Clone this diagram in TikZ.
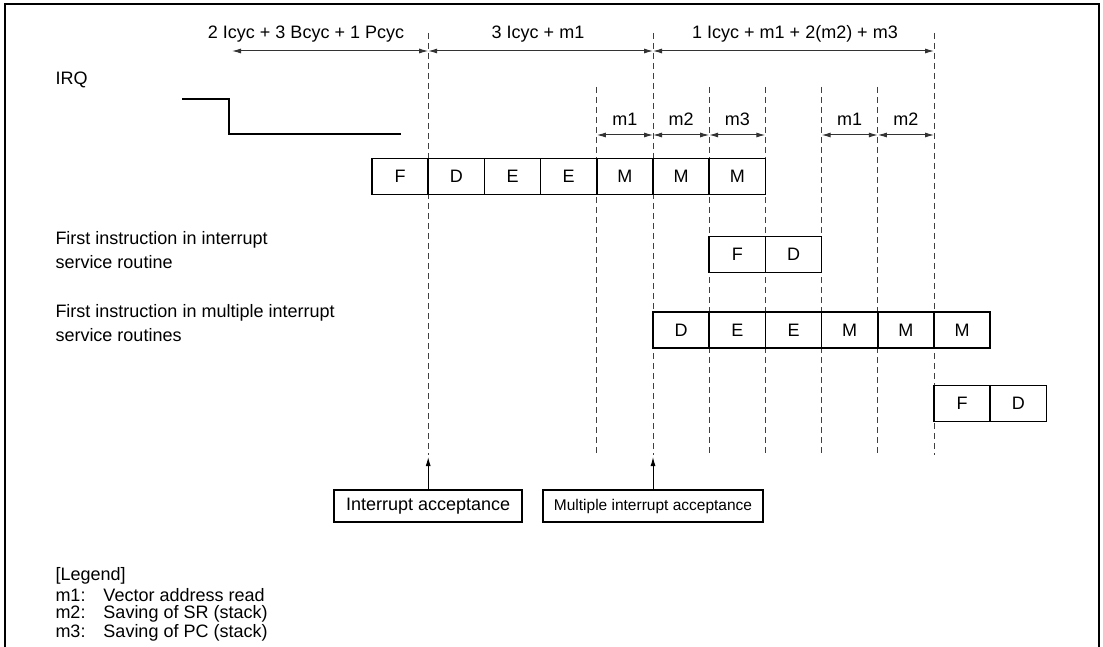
\documentclass[tikz,border=0pt]{standalone}
\usepackage{fontspec}
\setmainfont{Liberation Sans}
\usetikzlibrary{arrows.meta,positioning}

\newcommand{\legkey}[1]{\makebox[48pt][l]{#1}}

\begin{document}
\begin{tikzpicture}[
  x=1pt,
  y=-1pt,
  >={Latex[length=9pt,width=5pt]},
  line width=1pt,
  every node/.style={font=\fontsize{18}{24}\selectfont, inner sep=0pt},
  cell/.style={draw, line width=1.7pt, minimum width=56.2pt, minimum height=36pt},
  guide/.style={draw=black!75, line width=1pt, dash pattern=on 6pt off 4pt},
  dimarrow/.style={<->, draw=black!80, line width=1pt},
  rowlabel/.style={anchor=west, align=left},
  accbox/.style={draw, line width=1.7pt, minimum height=32pt},
]
\useasboundingbox (0,0) rectangle (1103,647);
\draw[line width=2pt] (5,652) -- (5,4) -- (1099,4) -- (1099,652);

% dashed timing guides
\foreach \gx/\gy in {428.2/33, 596.8/87, 653/33, 709.2/87, 765.4/87, 821.6/87, 877.8/87, 934/33}
  \draw[guide] (\gx,\gy) -- (\gx,455);

% overall durations
\draw[dimarrow] (232,51) -- (428.2,51);
\draw[dimarrow] (428.2,51) -- (653,51);
\draw[dimarrow] (653,51) -- (934,51);
\node (durA) at (306,34) {2 Icyc + 3 Bcyc + 1 Pcyc};
\node (durB) at (538,34) {3 Icyc + m1};
\node (durC) at (795,34) {1 Icyc + m1 + 2(m2) + m3};

% memory cycles
\draw[dimarrow] (596.8,135) -- (653,135);
\draw[dimarrow] (653,135) -- (709.2,135);
\draw[dimarrow] (709.2,135) -- (765.4,135);
\draw[dimarrow] (821.6,135) -- (877.8,135);
\draw[dimarrow] (877.8,135) -- (934,135);
\node (mA) at (624.9,119) {m1};
\node (mB) at (681.1,119) {m2};
\node (mC) at (737.3,119) {m3};
\node (mD) at (849.7,119) {m1};
\node (mE) at (905.9,119) {m2};

% IRQ signal
\node[rowlabel] (irq) at (55,80) {IRQ};
\draw[line width=1.7pt] (182,99) -- (229,99) -- (229,134) -- (401,134);

% current instruction
\node[cell] (r1c1) at (400.1,176.5) {F};
\node[cell] (r1c2) at (456.3,176.5) {D};
\node[cell] (r1c3) at (512.5,176.5) {E};
\node[cell] (r1c4) at (568.7,176.5) {E};
\node[cell] (r1c5) at (624.9,176.5) {M};
\node[cell] (r1c6) at (681.1,176.5) {M};
\node[cell] (r1c7) at (737.3,176.5) {M};

% interrupt service routine
\node[rowlabel] (isr) at (55,250) {First instruction in interrupt\\service routine};
\node[cell] (r2c1) at (737.3,254.5) {F};
\node[cell] (r2c2) at (793.5,254.5) {D};

% multiple interrupt service routines
\node[rowlabel] (misr) at (55,323) {First instruction in multiple interrupt\\service routines};
\node[cell] (r3c1) at (681.1,330) {D};
\node[cell] (r3c2) at (737.3,330) {E};
\node[cell] (r3c3) at (793.5,330) {E};
\node[cell] (r3c4) at (849.7,330) {M};
\node[cell] (r3c5) at (905.9,330) {M};
\node[cell] (r3c6) at (962.1,330) {M};
\node[cell] (r4c1) at (962.1,403.5) {F};
\node[cell] (r4c2) at (1018.3,403.5) {D};

% acceptance points
\node[accbox, minimum width=188pt] (acc) at (428.2,506) {Interrupt acceptance};
\node[accbox, minimum width=220pt, font=\fontsize{15.5}{18}\selectfont] (macc) at (653,506) {Multiple interrupt acceptance};
\coordinate (accTip) at (428.2,457);
\coordinate (maccTip) at (653,457);
\draw[->] (acc.north) -- (accTip);
\draw[->] (macc.north) -- (maccTip);

% legend
\node[rowlabel] (legend) at (55,576) {[Legend]};
\node[rowlabel] (leg1) at (55,595) {\legkey{m1:}Vector address read};
\node[rowlabel] (leg2) at (55,614) {\legkey{m2:}Saving of SR (stack)};
\node[rowlabel] (leg3) at (55,633) {\legkey{m3:}Saving of PC (stack)};
\end{tikzpicture}
\end{document}
